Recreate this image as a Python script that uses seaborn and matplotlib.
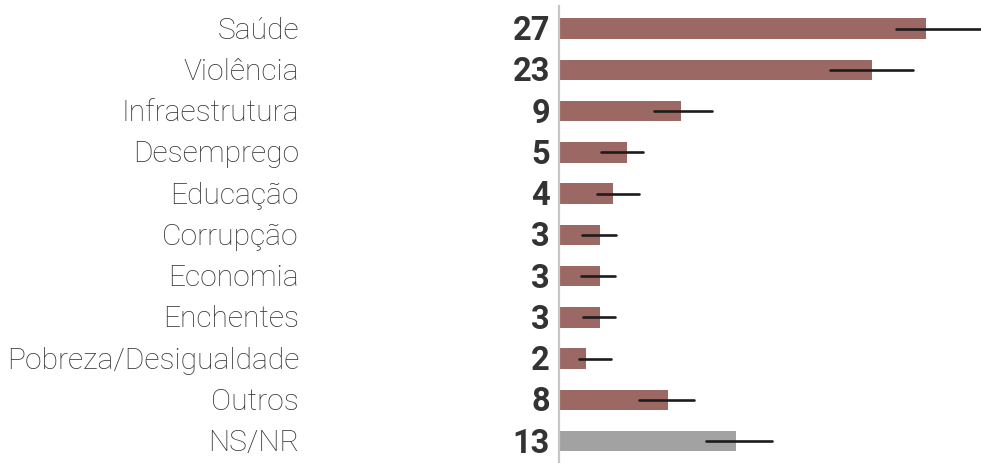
import matplotlib
matplotlib.use("Agg")
import matplotlib.pyplot as plt
import seaborn as sns
import pandas as pd

# Main problems cited (%), with interval bounds
categories = ["Saúde", "Violência", "Infraestrutura", "Desemprego", "Educação",
              "Corrupção", "Economia", "Enchentes", "Pobreza/Desigualdade",
              "Outros", "NS/NR"]
values = [27, 23, 9, 5, 4, 3, 3, 3, 2, 8, 13]
err_low = [24.8, 19.9, 7.0, 3.1, 2.8, 1.7, 1.6, 1.75, 1.5, 5.9, 10.8]
err_high = [32.0, 26.0, 11.25, 6.2, 5.85, 4.2, 4.15, 4.1, 3.8, 9.9, 15.65]

BAR = "#9b6864"
GREY = "#a2a2a2"
TEXT = "#333333"
colors = [BAR] * (len(categories) - 1) + [GREY]

df = pd.DataFrame({"categoria": categories, "valor": values})

sns.set_theme(style="white")
plt.rcParams["font.family"] = ["Roboto", "DejaVu Sans"]

dpi = 100
fig = plt.figure(figsize=(981 / dpi, 463 / dpi), dpi=dpi)
ax = fig.add_axes([559 / 981, 0, 1 - 559 / 981, 1 - 6 / 463])

sns.barplot(data=df, x="valor", y="categoria", hue="categoria",
            palette=colors, legend=False, orient="h", width=0.5,
            errorbar=None, ax=ax, linewidth=0, saturation=1)

ax.hlines(range(len(categories)), err_low, err_high, color="#1c1c1c",
          linewidth=1.9, capstyle="round")

ax.set_xlim(0, 422 / 13.6)
ax.set_ylim(10.53, -0.55)
ax.set_xlabel("")
ax.set_ylabel("")
ax.set_xticks([])
ax.set_yticks([])
for side in ("top", "right", "bottom"):
    ax.spines[side].set_visible(False)
ax.spines["left"].set_color("#c6c6c6")
ax.spines["left"].set_linewidth(1.6)

pt = 72 / dpi
for i, (cat, val) in enumerate(zip(categories, values)):
    ax.annotate(cat, xy=(0, i), xytext=(-260 * pt, -10 * pt),
                textcoords="offset points", ha="right", va="baseline",
                fontsize=21.6, fontweight="light", color=TEXT,
                annotation_clip=False)
    ax.annotate(str(val), xy=(0, i), xytext=(-9 * pt, -11.5 * pt),
                textcoords="offset points", ha="right", va="baseline",
                fontsize=23.5, fontweight="bold", color=TEXT,
                annotation_clip=False)

fig.savefig("out.png", dpi=dpi)
